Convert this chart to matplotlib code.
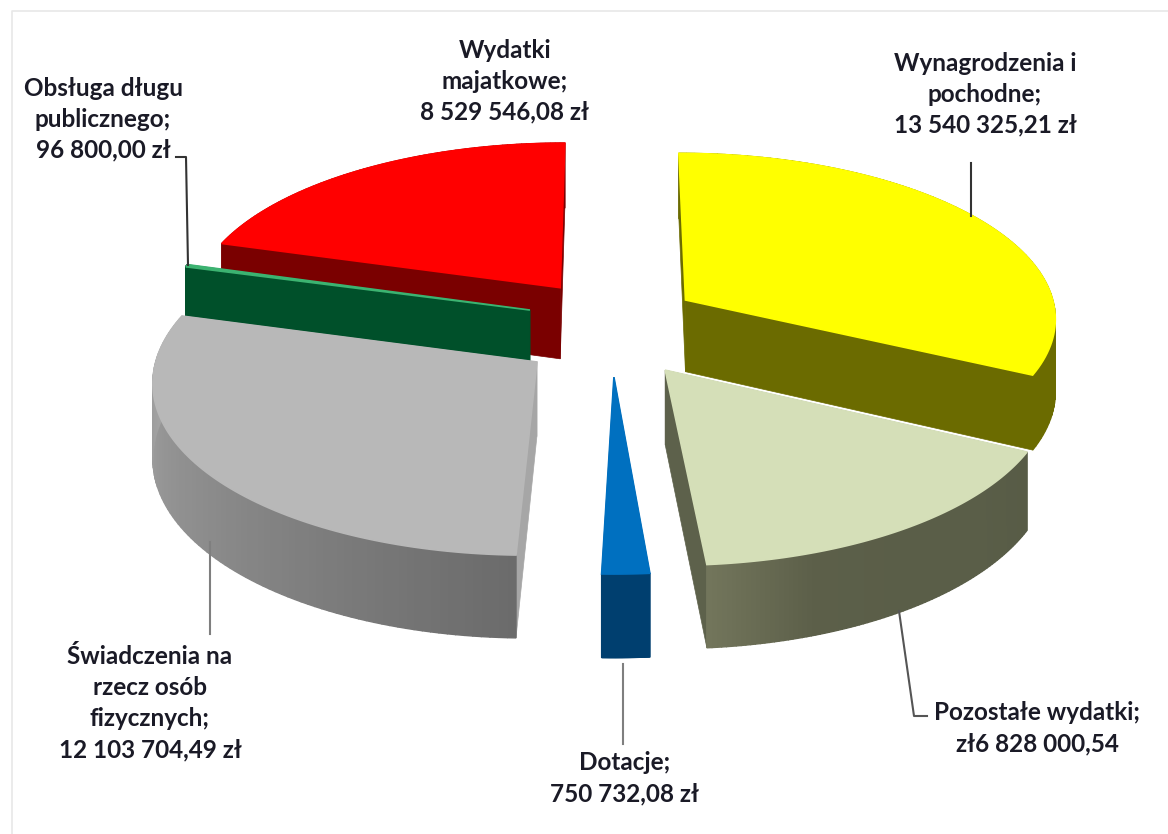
import numpy as np
import matplotlib
matplotlib.use('Agg')
import matplotlib.pyplot as plt
from matplotlib.colors import to_rgb

# slices in drawing sequence round the pie, clockwise from 12 o'clock
names = ['Wynagrodzenia i\npochodne;', 'Pozostałe wydatki;', 'Dotacje;',
         'Świadczenia na\nrzecz osób\nfizycznych;', 'Obsługa długu\npublicznego;',
         'Wydatki\nmajatkowe;']
values = [13540325.21, 6828000.54, 750732.08, 12103704.49, 96800.00, 8529546.08]
value_labels = ['13 540 325,21 zł', 'zł6 828 000,54', '750 732,08 zł',
                '12 103 704,49 zł', '96 800,00 zł', '8 529 546,08 zł']

# how far each slice is pulled out, in units of the pie radius
offset_x = [0.20, 0.139, 0.005, -0.197, -0.222, -0.142]
offset_y = [0.183, -0.235, -0.275, -0.188, 0.121, 0.26]
top_colors = ['#ffff00', '#d5dfb8', '#0070c0', '#b8b8b8', '#3cb371', '#ff0000']
wall_colors = ['#6b6b00', '#5d614b', '#003f6f', '#a6a6a6', '#00502a', '#7a0000']
# outer wall colours, from the start of the arc to its end
arc_stops = [['#6b6b00', '#6b6b00'], ['#575b46', '#5a5e48', '#5a5e48', '#5c5f49', '#72755b'],
             ['#003f6f', '#003f6f'], ['#6b6b6b', '#8c8c8c', '#a8a8a8'],
             ['#00502a', '#00502a'], ['#7a0000', '#7a0000']]
draw_order = [5, 4, 3, 0, 1, 2]

# where each label sits and its leader line
label_pos = [(985, 94), (1037, 728), (625, 778), (150, 703), (103, 119), (505, 81)]
leaders = [([971, 971], [163, 216], '#333333'),
           ([899, 914, 927], [611, 716, 716], '#555555'),
           ([623, 623], [664, 744], '#7f7f7f'),
           ([210, 210], [542, 634], '#7f7f7f'),
           ([176, 186, 188], [157, 157, 265], '#333333')]

CX, CY = 612, 330
RX, RY = 374, 167
PERSP = 0.10
DEPTH = 73


def project(x, y, z=0.0):
    s = 1.0 / (1.0 + PERSP * y)
    return CX + RX * x * s, CY - RY * y * s + DEPTH * z * s


def blend(stops, t):
    cols = np.array([to_rgb(c) for c in stops])
    pos = np.linspace(0, 1, len(cols))
    return tuple(np.interp(t, pos, cols[:, k]) for k in range(3))


fig = plt.figure(figsize=(11.68, 8.34), dpi=100)
ax = fig.add_axes([0, 0, 1, 1])
ax.set_xlim(0, 1168)
ax.set_ylim(834, 0)
ax.axis('off')

ax.plot([12, 12, 1168], [834, 11, 11], color='#e8e8e8', lw=1.2)

fractions = np.array(values) / sum(values)
edges = np.concatenate([[0], np.cumsum(fractions)]) * 2 * np.pi

for i in draw_order:
    a0, a1 = edges[i], edges[i + 1]
    ox, oy = offset_x[i], offset_y[i]
    t = np.linspace(a0, a1, 90)
    wx, wy = ox + np.sin(t), oy + np.cos(t)
    tx, ty = project(wx, wy)
    bx, by = project(wx, wy, 1.0)
    ax0, ay0 = project(ox, oy)
    ax1, ay1 = project(ox, oy, 1.0)

    # radial walls
    for k in (0, -1):
        ax.fill([ax0, tx[k], bx[k], ax1], [ay0, ty[k], by[k], ay1],
                color=wall_colors[i], lw=0.5)
    # outer wall
    for k in range(len(t) - 1):
        c = blend(arc_stops[i], k / (len(t) - 2))
        ax.fill([tx[k], tx[k + 1], bx[k + 1], bx[k]], [ty[k], ty[k + 1], by[k + 1], by[k]],
                color=c, lw=1.0)
    # top face
    ax.fill(np.r_[ax0, tx], np.r_[ay0, ty], color=top_colors[i], lw=1.2)

for xs, ys, c in leaders:
    ax.plot(xs, ys, color=c, lw=1.5, solid_joinstyle='round')

for name, val, pos in zip(names, value_labels, label_pos):
    ax.text(pos[0], pos[1], name + '\n' + val, ha='center', va='center',
            family='Lato', weight='bold', fontsize=17.5, color='#1a1a26',
            linespacing=1.42)

plt.savefig('out.png', dpi=100)
